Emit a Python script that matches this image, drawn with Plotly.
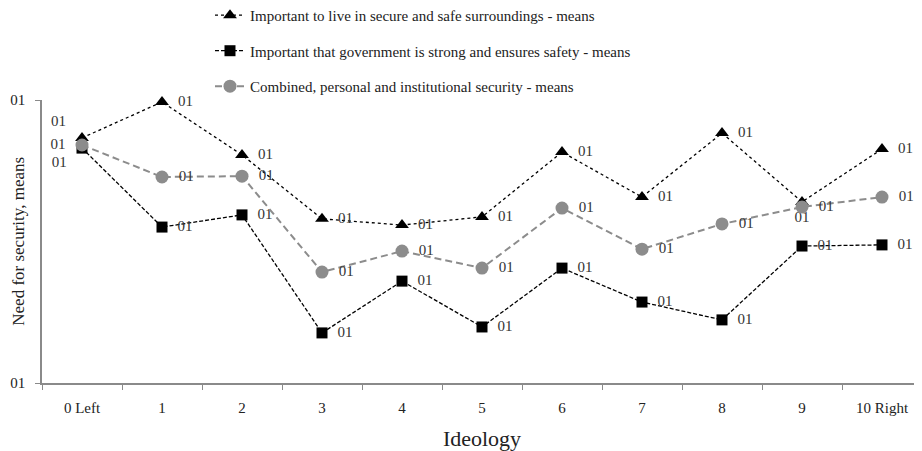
import plotly.graph_objects as go

# categories along the ideology scale
categories = ["0 Left", "1", "2", "3", "4", "5", "6", "7", "8", "9", "10 Right"]

# means (axis runs 0..10 between the two ticks)
live_secure = [8.66, 9.93, 8.06, 5.80, 5.58, 5.87, 8.16, 6.57, 8.83, 6.40, 8.27]
gov_strong = [8.30, 5.51, 5.94, 1.77, 3.60, 1.98, 4.06, 2.86, 2.23, 4.84, 4.88]
combined = [8.41, 7.28, 7.31, 3.92, 4.66, 4.06, 6.18, 4.73, 5.62, 6.22, 6.57]

y_ticks = [0, 10]
y_tick_text = ["01", "01"]
point_label = "01"

names = [
    "Important to live in secure and safe surroundings - means",
    "Important that government is strong and ensures safety - means",
    "Combined, personal and institutional security - means",
]

FONT = "Liberation Serif"
label_font = dict(family=FONT, size=15, color="#333333")
NB = "\u00a0\u00a0"


def labels(positions):
    # pad the "01" away from the marker, like the original's data labels
    out = []
    for p in positions:
        if p.endswith("right"):
            out.append(NB + point_label)
        elif p.endswith("left"):
            out.append(point_label + NB)
        else:
            out.append(point_label)
    return out


fig = go.Figure()

pos_live = ["top left"] + ["middle right"] * 8 + ["bottom center", "middle right"]
fig.add_trace(go.Scatter(
    x=categories, y=live_secure, mode="lines+markers+text", name=names[0],
    legendgroup="a", cliponaxis=False,
    line=dict(color="black", width=1.3, dash="dot"),
    marker=dict(symbol="triangle-up", size=12, color="black"),
    text=labels(pos_live), textposition=pos_live, textfont=label_font,
))

pos_gov = ["bottom left"] + ["middle right"] * 10
fig.add_trace(go.Scatter(
    x=categories, y=gov_strong, mode="lines+markers+text", name=names[1],
    legendgroup="b", cliponaxis=False,
    line=dict(color="black", width=1.3, dash="4px,2px"),
    marker=dict(symbol="square", size=11, color="black"),
    text=labels(pos_gov), textposition=pos_gov, textfont=label_font,
))

pos_comb = ["middle left"] + ["middle right"] * 10
fig.add_trace(go.Scatter(
    x=categories, y=combined, mode="lines+markers+text", name=names[2],
    legendgroup="c", cliponaxis=False,
    line=dict(color="#8c8c8c", width=2, dash="7px,4px"),
    marker=dict(symbol="circle", size=13, color="#8c8c8c"),
    text=labels(pos_comb), textposition=pos_comb, textfont=label_font,
))

fig.update_layout(
    width=914, height=443,
    margin=dict(l=34, r=0, t=92, b=68, autoexpand=False),
    paper_bgcolor="white", plot_bgcolor="white",
    font=dict(family=FONT, size=15, color="#222222"),
    showlegend=True,
    legend=dict(
        xref="container", yref="paper", x=0.221, y=1.357,
        xanchor="left", yanchor="top",
        font=dict(family=FONT, size=15, color="#222222"),
        tracegroupgap=13, bgcolor="rgba(0,0,0,0)",
    ),
)

fig.add_annotation(
    text="Need for security, means", textangle=-90,
    xref="paper", yref="paper", x=-0.027, y=0.5,
    xanchor="center", yanchor="middle", showarrow=False,
    font=dict(family=FONT, size=17, color="#222222"),
)

fig.update_xaxes(
    type="category", range=[-0.5, 10.5],
    showline=True, linecolor="#8a8a8a", linewidth=1.5,
    ticks="outside", tickson="boundaries", ticklen=5, tickcolor="#8a8a8a",
    showgrid=False, zeroline=False, tickangle=0, ticklabelstandoff=10,
    tickfont=dict(family=FONT, size=15, color="#222222"),
    title=dict(text="Ideology", font=dict(family=FONT, size=22, color="#222222"), standoff=19),
)
fig.update_yaxes(
    range=[0, 10], tickvals=y_ticks, ticktext=y_tick_text,
    showline=True, linecolor="#8a8a8a", linewidth=1.5,
    ticks="outside", ticklen=5, tickcolor="#8a8a8a",
    showgrid=False, zeroline=False, ticklabelstandoff=7,
    tickfont=dict(family=FONT, size=15, color="#222222"),
)

fig.write_html("out.html")
